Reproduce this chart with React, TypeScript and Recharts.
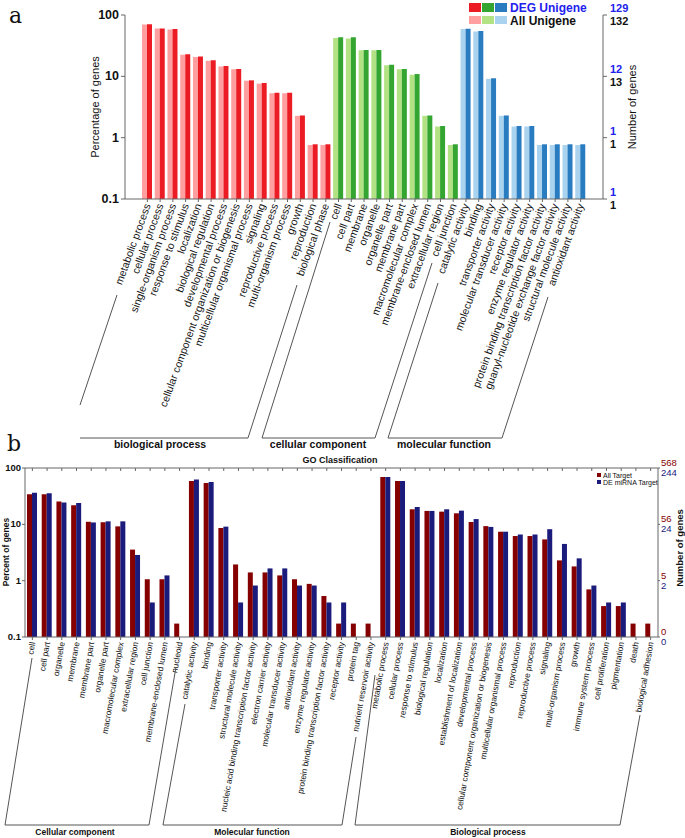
import React from 'react';
import { BarChart, Bar, XAxis, YAxis, Cell } from 'recharts';

const FONT = '"Liberation Sans", Arial, Helvetica, sans-serif';

// ---------- panel a: DEG vs All Unigene ----------
const bpTermsA = [
  'metabolic process', 'cellular process', 'single-organism process', 'response to stimulus',
  'localization', 'biological regulation', 'developmental process',
  'cellular component organization or biogenesis', 'multicellular organismal process', 'signaling',
  'reproductive process', 'multi-organism process', 'growth', 'reproduction', 'biological phase',
];
const bpDegA = [70.5, 60.5, 59, 22.9, 21, 18.3, 14.8, 13.2, 8.6, 7.8, 5.4, 5.4, 2.3, 0.78, 0.78];
const bpAllA = [70, 60, 58, 22.5, 20.6, 18, 14.5, 13, 8.5, 7.6, 5.3, 5.3, 2.27, 0.76, 0.76];

const ccTermsA = [
  'cell', 'cell part', 'membrane', 'organelle', 'organelle part', 'membrane part',
  'macromolecular complex', 'membrane-enclosed lumen', 'extracellular region', 'cell junction',
];
const ccDegA = [43.4, 43.4, 26.9, 26.9, 15.5, 13.2, 10.9, 2.3, 1.55, 0.78];
const ccAllA = [42, 41.5, 26.5, 26.5, 15.2, 13, 10.6, 2.27, 1.52, 0.76];

const mfTermsA = [
  'catalytic activity', 'binding', 'transporter activity', 'molecular transducer activity',
  'receptor activity', 'enzyme regulator activity', 'protein binding transcription factor activity',
  'guanyl-nucleotide exchange factor activity', 'structural molecule activity', 'antioxidant activity',
];
const mfDegA = [59.7, 54.6, 9.3, 2.3, 1.55, 1.55, 0.78, 0.78, 0.78, 0.78];
const mfAllA = [59, 53.8, 9.1, 2.27, 1.52, 1.52, 0.76, 0.76, 0.76, 0.76];

const logTicks = [0.1, 1, 10, 100];
const leftTickLabels = ['0.1', '1', '10', '100'];
const rightDegLabelsA = ['1', '1', '12', '129'];
const rightAllLabelsA = ['1', '1', '13', '132'];

// ---------- panel b: All Target vs DE miRNA Target ----------
const ccTermsB = [
  'cell', 'cell part', 'organelle', 'membrane', 'membrane part', 'organelle part',
  'macromolecular complex', 'extracellular region', 'cell junction', 'membrane-enclosed lumen', 'nucleoid',
];
const ccAllB = [34.3, 34.3, 25.3, 21.8, 11.1, 10.9, 9.2, 3.56, 1.06, 1.06, 0.173];
const ccDeB = [36.2, 35.7, 24.3, 24, 10.8, 11.3, 11.3, 2.86, 0.41, 1.24, null];

const mfTermsB = [
  'catalytic activity', 'binding', 'transporter activity', 'structural molecule activity',
  'nucleic acid binding transcription factor activity', 'electron carrier activity',
  'molecular transducer activity', 'antioxidant activity', 'enzyme regulator activity',
  'protein binding transcription factor activity', 'receptor activity', 'protein tag',
  'nutrient reservoir activity',
];
const mfAllB = [58.5, 54, 8.6, 1.94, 1.4, 1.4, 1.24, 1.06, 0.877, 0.535, 0.173, 0.173, 0.173];
const mfDeB = [62.7, 56.3, 9.1, 0.41, 0.82, 1.65, 1.65, 0.82, 0.82, 0.41, 0.41, null, null];

const bpTermsB = [
  'metabolic process', 'cellular process', 'response to stimulus', 'biological regulation',
  'localization', 'establishment of localization', 'developmental process',
  'cellular component organization or biogenesis', 'multicellular organismal process',
  'reproduction', 'reproductive process', 'signaling', 'multi-organism process', 'growth',
  'immune system process', 'cell proliferation', 'pigmentation', 'death', 'biological adhesion',
];
const bpAllB = [69, 58.5, 18.5, 17.3, 16.8, 15.7, 11, 9.3, 7.4, 6.2, 6.2, 5.4, 2.29, 1.79, 0.7, 0.354, 0.354, 0.173, 0.173];
const bpDeB = [69, 58.5, 20.3, 17.3, 18.5, 17.5, 12.4, 9.0, 7.4, 6.6, 6.6, 8.2, 4.49, 2.49, 0.82, 0.41, 0.41, null, null];

const rightAllLabelsB = ['0', '5', '56', '568'];
const rightDeLabelsB = ['0', '2', '24', '244'];

const colorsA: Record<string, { deg: string; all: string }> = {
  bp: { deg: '#ec1c24', all: '#ff9f9f' },
  cc: { deg: '#35a532', all: '#b2e283' },
  mf: { deg: '#2a7cc1', all: '#a9d3ef' },
};
const RED_B = '#850000';
const BLUE_B = '#1b1b7c';

const rowsA = [
  ...bpTermsA.map((t, i) => ({ term: t, group: 'bp', deg: bpDegA[i], all: bpAllA[i] })),
  ...ccTermsA.map((t, i) => ({ term: t, group: 'cc', deg: ccDegA[i], all: ccAllA[i] })),
  ...mfTermsA.map((t, i) => ({ term: t, group: 'mf', deg: mfDegA[i], all: mfAllA[i] })),
];

const rowsB = [
  ...ccTermsB.map((t, i) => ({ term: t, all: ccAllB[i], de: ccDeB[i] })),
  ...mfTermsB.map((t, i) => ({ term: t, all: mfAllB[i], de: mfDeB[i] })),
  ...bpTermsB.map((t, i) => ({ term: t, all: bpAllB[i], de: bpDeB[i] })),
];

const tickIdx = (v: number) => logTicks.indexOf(v);

const CatTickA = (props: any) => {
  const { x, y, payload } = props;
  return (
    <g transform={`translate(${x},${y})`}>
      <text transform="rotate(-70)" textAnchor="end" dy={3.7} fontSize={10.6} fill="#111" fontFamily={FONT}>
        {payload.value}
      </text>
    </g>
  );
};

const CatTickB = (props: any) => {
  const { x, y, payload } = props;
  return (
    <g transform={`translate(${x},${y})`}>
      <text transform="rotate(-80)" textAnchor="end" dy={3} fontSize={8.4} fill="#111" fontFamily={FONT}>
        {payload.value}
      </text>
    </g>
  );
};

const LeftTickA = (props: any) => {
  const { x, y, payload } = props;
  return (
    <text x={x} y={y} dy={4} textAnchor="end" fontSize={12.5} fontWeight="bold" fill="#111" fontFamily={FONT}>
      {leftTickLabels[tickIdx(payload.value)]}
    </text>
  );
};

const RightTickA = (props: any) => {
  const { x, y, payload } = props;
  const i = tickIdx(payload.value);
  return (
    <g>
      <text x={x} y={y - 7} dy={4} fontSize={11} fontWeight="bold" fill="#2222ee" fontFamily={FONT}>
        {rightDegLabelsA[i]}
      </text>
      <text x={x} y={y + 6} dy={4} fontSize={11} fontWeight="bold" fill="#111" fontFamily={FONT}>
        {rightAllLabelsA[i]}
      </text>
    </g>
  );
};

const LeftTickB = (props: any) => {
  const { x, y, payload } = props;
  return (
    <text x={x} y={y} dy={3} textAnchor="end" fontSize={9.5} fontWeight="bold" fill="#111" fontFamily={FONT}>
      {leftTickLabels[tickIdx(payload.value)]}
    </text>
  );
};

const RightTickB = (props: any) => {
  const { x, y, payload } = props;
  const i = tickIdx(payload.value);
  return (
    <g>
      <text x={x} y={y - 5} dy={3} fontSize={9.5} fill={RED_B} fontFamily={FONT}>
        {rightAllLabelsB[i]}
      </text>
      <text x={x} y={y + 5} dy={3} fontSize={9.5} fill={BLUE_B} fontFamily={FONT}>
        {rightDeLabelsB[i]}
      </text>
    </g>
  );
};

const line = { stroke: '#666', strokeWidth: 1 };

const Overlay = () => (
  <svg width={685} height={838} style={{ position: 'absolute', left: 0, top: 0, pointerEvents: 'none' }}>
    {/* panel a decorations */}
    <text x={9} y={23} fontSize={22} fontFamily="'DejaVu Serif', serif" fill="#111">a</text>
    <text transform="translate(95,107) rotate(-90)" textAnchor="middle" dy={4} fontSize={11} fill="#111" fontFamily={FONT}>
      Percentage of genes
    </text>
    <text transform="translate(632,107) rotate(-90)" textAnchor="middle" dy={4} fontSize={11} fill="#111" fontFamily={FONT}>
      Number of genes
    </text>
    <rect x={469} y={3} width={12} height={9} fill={colorsA.bp.deg} />
    <rect x={482} y={3} width={12} height={9} fill={colorsA.cc.deg} />
    <rect x={495} y={3} width={12} height={9} fill={colorsA.mf.deg} />
    <rect x={469} y={16} width={12} height={8} fill={colorsA.bp.all} />
    <rect x={482} y={16} width={12} height={8} fill={colorsA.cc.all} />
    <rect x={495} y={16} width={12} height={8} fill={colorsA.mf.all} />
    <text x={510} y={12} fontSize={12} fontWeight="bold" fill="#2222ee" fontFamily={FONT}>DEG Unigene</text>
    <text x={510} y={25} fontSize={12} fontWeight="bold" fill="#111" fontFamily={FONT}>All Unigene</text>

    <g fill="none" stroke="#555" strokeWidth={1}>
      <polyline points="117,295 80,405" />
      <polyline points="80,438 248,438 297,285" />
      <polyline points="330,222 262,438 375,438 432,263" />
      <polyline points="438,283 388,438 502,438 548,297" />
    </g>
    <g fontSize={10.5} fontWeight="bold" fill="#111" fontFamily={FONT} textAnchor="middle">
      <text x={160} y={448}>biological process</text>
      <text x={318} y={448}>cellular component</text>
      <text x={444} y={448}>molecular function</text>
    </g>

    {/* panel b decorations */}
    <text x={7} y={451} fontSize={22} fontFamily="'DejaVu Serif', serif" fill="#111">b</text>
    <text x={340} y={463} textAnchor="middle" fontSize={9} fontWeight="bold" fill="#111" fontFamily={FONT}>GO Classification</text>
    <text transform="translate(6,552) rotate(-90)" textAnchor="middle" dy={3} fontSize={8.5} fontWeight="bold" fill="#111" fontFamily={FONT}>
      Percent of genes
    </text>
    <text transform="translate(680,548) rotate(-90)" textAnchor="middle" dy={3} fontSize={9.5} fontWeight="bold" fill="#111" fontFamily={FONT}>
      Number of genes
    </text>
    <rect x={597} y={473} width={4} height={4} fill={RED_B} />
    <rect x={597} y={480} width={4} height={4} fill={BLUE_B} />
    <text x={603} y={477.5} fontSize={7} fill="#111" fontFamily={FONT}>All Target</text>
    <text x={603} y={484.5} fontSize={7} fill="#111" fontFamily={FONT}>DE miRNA Target</text>

    <g fill="none" stroke="#555" strokeWidth={1}>
      <polyline points="32,658 5,825 149,825 176,667" />
      <polyline points="185,704 163,825 342,825 356,737" />
      <polyline points="375,675 355,825 620,825 640,715" />
    </g>
    <g fontSize={8.5} fontWeight="bold" fill="#111" fontFamily={FONT} textAnchor="middle">
      <text x={75} y={835}>Cellular component</text>
      <text x={252} y={835}>Molecular function</text>
      <text x={488} y={835}>Biological process</text>
    </g>
  </svg>
);

export default function App() {
  return (
    <div style={{ position: 'absolute', left: 0, top: 0, width: 685, height: 838, background: '#fff', fontFamily: FONT }}>
      <div style={{ position: 'absolute', left: 0, top: 0 }}>
        <BarChart width={685} height={450} data={rowsA} margin={{ top: 15, right: 0, left: 0, bottom: 0 }} barGap={0}>
          <XAxis
            dataKey="term"
            interval={0}
            tick={<CatTickA />}
            tickSize={3}
            tickMargin={2}
            height={251}
            padding={{ left: 16, right: 16 }}
            axisLine={line}
            tickLine={line}
          />
          <YAxis
            scale="log"
            type="number"
            domain={[0.1, 100]}
            allowDataOverflow
            ticks={logTicks}
            width={125}
            tick={<LeftTickA />}
            tickSize={4}
            axisLine={line}
            tickLine={line}
          />
          <YAxis
            yAxisId="r"
            orientation="right"
            scale="log"
            type="number"
            domain={[0.1, 100]}
            allowDataOverflow
            ticks={logTicks}
            width={82}
            tick={<RightTickA />}
            tickSize={4}
            tickMargin={3}
            axisLine={line}
            tickLine={line}
          />
          <Bar dataKey="all" barSize={5} isAnimationActive={false}>
            {rowsA.map((r, i) => (
              <Cell key={i} fill={colorsA[r.group].all} />
            ))}
          </Bar>
          <Bar dataKey="deg" barSize={5} isAnimationActive={false}>
            {rowsA.map((r, i) => (
              <Cell key={i} fill={colorsA[r.group].deg} />
            ))}
          </Bar>
        </BarChart>
      </div>
      <div style={{ position: 'absolute', left: 0, top: 440 }}>
        <BarChart width={685} height={398} data={rowsB} margin={{ top: 28, right: 0, left: 0, bottom: 0 }} barGap={0}>
          <XAxis
            dataKey="term"
            interval={0}
            tick={<CatTickB />}
            tickSize={3}
            tickMargin={2}
            height={201}
            axisLine={line}
            tickLine={line}
          />
          <XAxis
            xAxisId="top"
            orientation="top"
            dataKey="term"
            interval={0}
            tick={() => null}
            tickSize={3}
            mirror
            height={1}
            axisLine={line}
            tickLine={line}
          />
          <YAxis
            scale="log"
            type="number"
            domain={[0.1, 100]}
            allowDataOverflow
            ticks={logTicks}
            width={25}
            tick={<LeftTickB />}
            tickSize={3}
            tickMargin={1}
            axisLine={line}
            tickLine={line}
          />
          <YAxis
            yAxisId="r"
            orientation="right"
            scale="log"
            type="number"
            domain={[0.1, 100]}
            allowDataOverflow
            ticks={logTicks}
            width={27}
            tick={<RightTickB />}
            tickSize={2}
            tickMargin={1}
            axisLine={line}
            tickLine={line}
          />
          <Bar dataKey="all" barSize={5} fill={RED_B} isAnimationActive={false} />
          <Bar dataKey="de" barSize={5} fill={BLUE_B} isAnimationActive={false} />
        </BarChart>
      </div>
      <Overlay />
    </div>
  );
}
